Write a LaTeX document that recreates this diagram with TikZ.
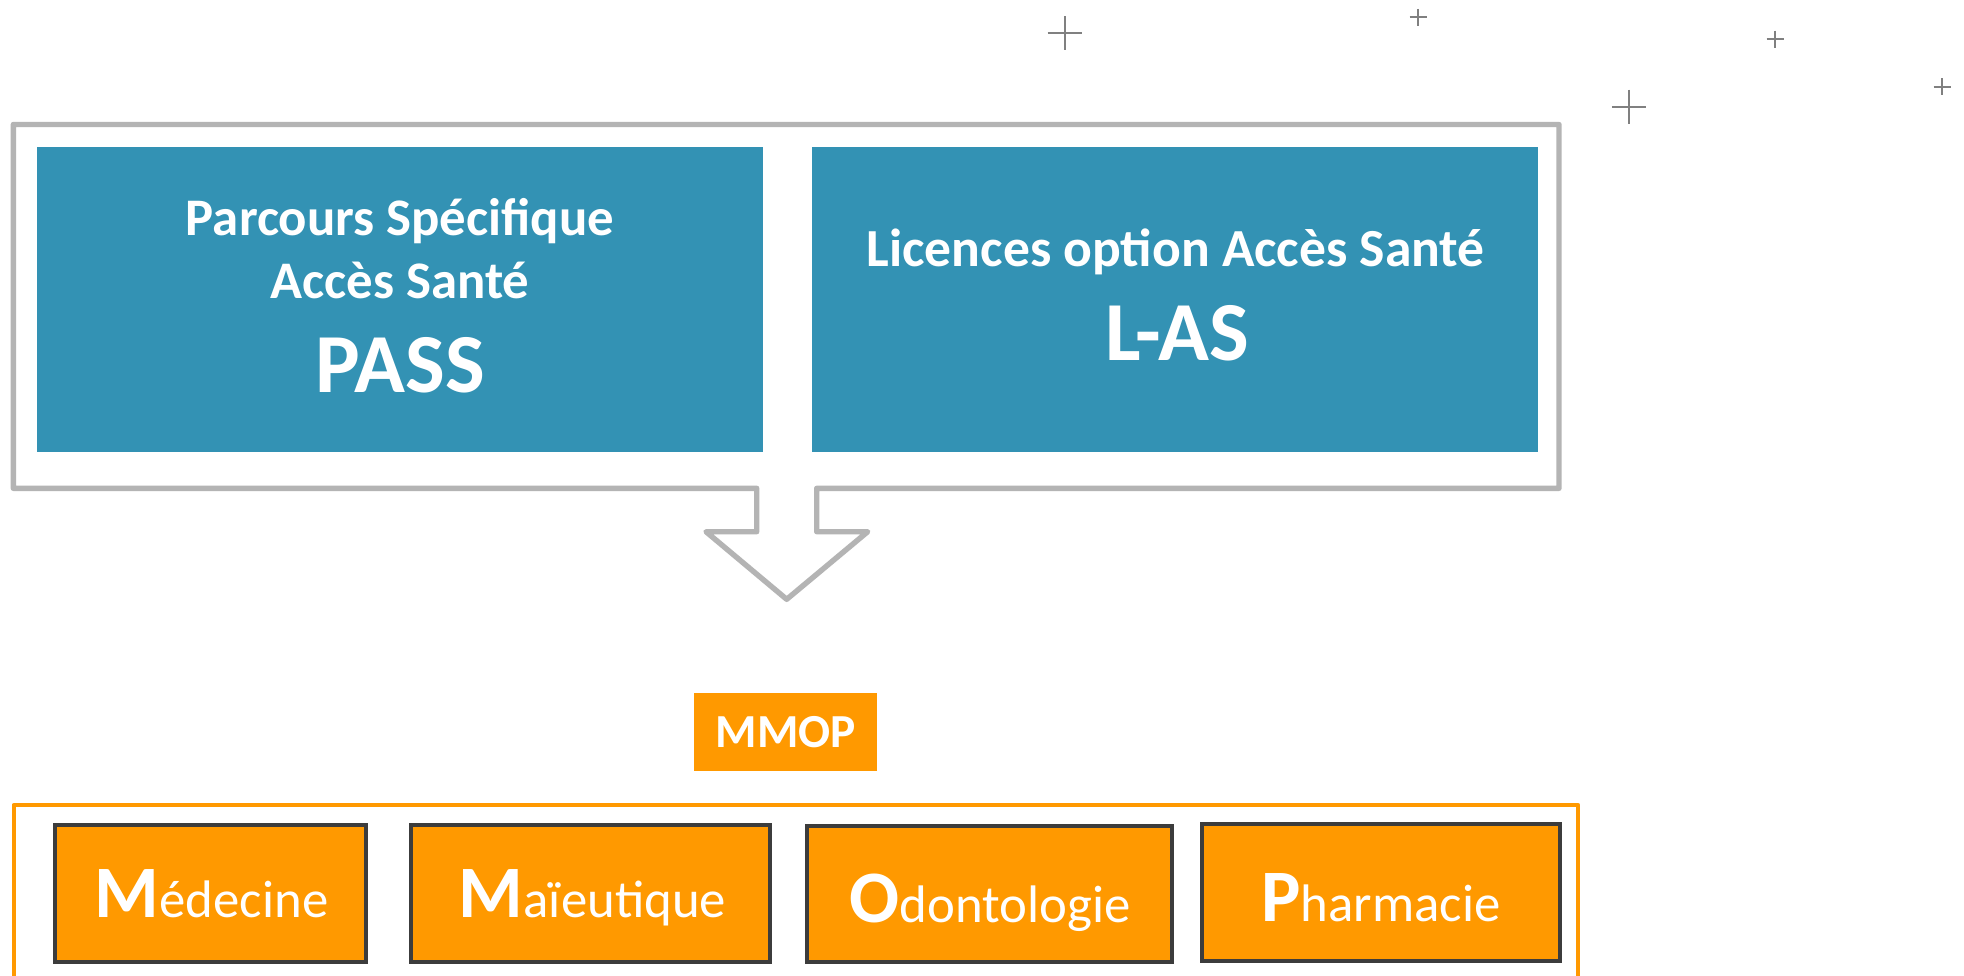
\documentclass[tikz,border=0pt]{standalone}
\usepackage{fontspec}
\setmainfont{Carlito}
\definecolor{blueF}{RGB}{51,146,180}
\definecolor{orangeF}{RGB}{255,153,0}
\definecolor{frameGray}{RGB}{180,180,180}
\definecolor{darkB}{RGB}{60,60,60}
\definecolor{plusGray}{RGB}{128,128,128}
\tikzset{
  bluebox/.style={fill=blueF, draw=none, inner sep=0pt, outer sep=0pt, minimum width=363.15pt, minimum height=152.5pt},
  mmopbox/.style={fill=orangeF, draw=none, inner sep=0pt, outer sep=0pt, minimum width=91.5pt, minimum height=38.85pt},
  subjbox/.style={fill=orangeF, draw=darkB, line width=2pt, inner sep=0pt, outer sep=0pt, minimum height=68.3pt},
  wtxt/.style={text=white, inner sep=0pt, outer sep=0pt, anchor=base},
  plussign/.style={draw=plusGray, line width=1pt},
}
\newcommand{\subj}[2]{{\fontsize{37}{37}\selectfont\bfseries #1}{\fontsize{26.4}{26.4}\selectfont #2}}
\begin{document}
\begin{tikzpicture}[x=0.5pt, y=-0.5pt]
\clip (0,0) rectangle (1964,975);
\fill[white] (0,0) rectangle (1964,975);

% plus signs
\draw[plussign] (1064.5,16.3) -- (1064.5,50.3) (1047.5,33.3) -- (1081.5,33.3);
\draw[plussign] (1418,8.8) -- (1418,25.8) (1409.5,17.3) -- (1426.5,17.3);
\draw[plussign] (1775,30.5) -- (1775,47.5) (1766.5,39) -- (1783.5,39);
\draw[plussign] (1628.8,89.7) -- (1628.8,123.7) (1611.8,106.7) -- (1645.8,106.7);
\draw[plussign] (1942,78.2) -- (1942,95.2) (1933.5,86.7) -- (1950.5,86.7);

% gray frame with arrow
\draw[frameGray, line width=2.7pt, line join=round]
  (13.3,124.5) -- (1559,124.5) -- (1559,488.3) -- (816.7,488.3) -- (816.7,531.7)
  -- (867.7,531.7) -- (786.7,599.3) -- (706,531.7) -- (756.7,531.7)
  -- (756.7,488.3) -- (13.3,488.3) -- cycle;

% blue boxes
\node[bluebox] (pass) at (399.85,299.2) {};
\node[bluebox] (las) at (1175.1,299.2) {};
\node[wtxt, font=\fontsize{26.4}{26.4}\selectfont\bfseries] (pass1) at (400,235) {Parcours Spécifique};
\node[wtxt, font=\fontsize{26.4}{26.4}\selectfont\bfseries] (pass2) at (400,298.3) {Accès Santé};
\node[wtxt, font=\fontsize{42}{42}\selectfont\bfseries] (pass3) at (400,392.7) {PASS};
\node[wtxt, font=\fontsize{26.8}{26.8}\selectfont\bfseries] (las1) at (1175.7,266.7) {Licences option Accès Santé};
\node[wtxt, font=\fontsize{42}{42}\selectfont\bfseries] (las2) at (1177,360) {L-AS};

% MMOP
\node[mmopbox] (mmop) at (785.5,731.85) {};
\node[wtxt, font=\fontsize{23.7}{23.7}\selectfont\bfseries] (mmopt) at (786,747.7) {MMOP};

% orange frame
\draw[orangeF, line width=2.2pt, line join=round] (13.8,1000) -- (13.8,805) -- (1578,805) -- (1578,1000);

% subject boxes
\node[subjbox, minimum width=155.85pt] (med) at (210.5,893.2) {};
\node[subjbox, minimum width=179.6pt] (mai) at (590.8,893.3) {};
\node[subjbox, minimum width=182.9pt] (odo) at (989.5,894) {};
\node[subjbox, minimum width=179pt] (pha) at (1381,892.7) {};
\node[wtxt] (medt) at (211.7,917.3) {\subj{M}{édecine}};
\node[wtxt] (mait) at (592.6,917.3) {\subj{M}{aïeutique}};
\node[wtxt] (odot) at (990,922.7) {\subj{O}{dontologie}};
\node[wtxt] (phat) at (1381,921.7) {\subj{P}{harmacie}};
\end{tikzpicture}
\end{document}
